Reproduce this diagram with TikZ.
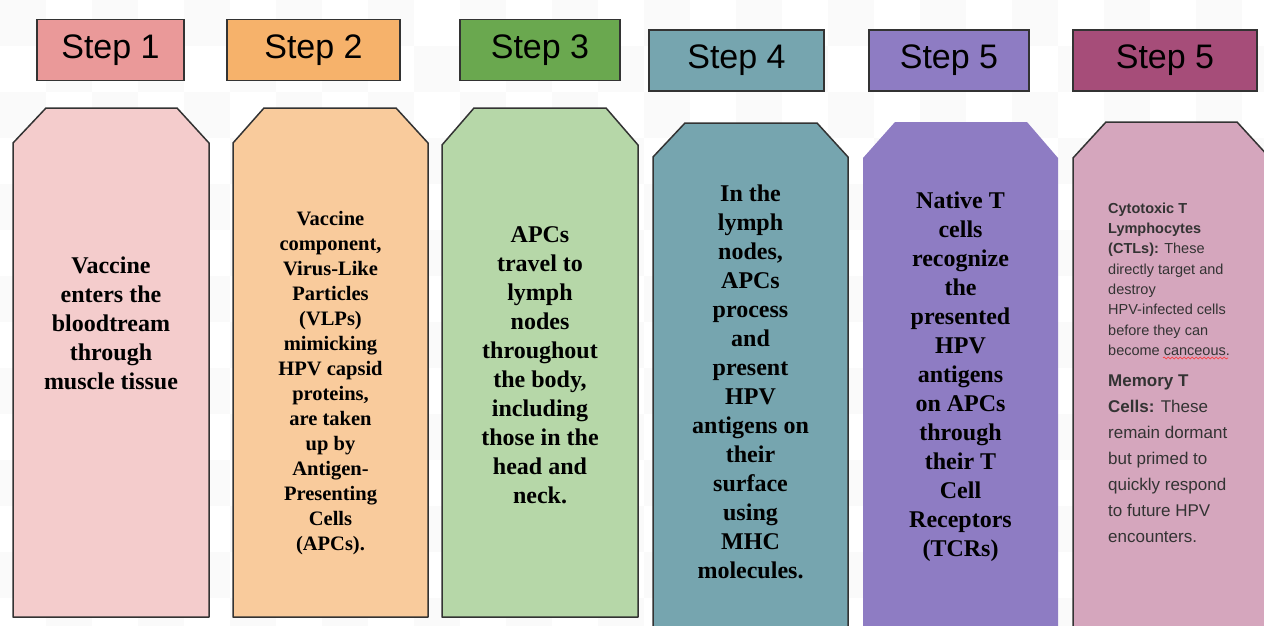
\documentclass[tikz,border=0pt]{standalone}
\usepackage{fontspec}
\setmainfont{Liberation Serif}
\setsansfont{Liberation Sans}
\usepackage{tikz}
\usetikzlibrary{decorations.pathmorphing}
\definecolor{hdpink}{HTML}{EA9999}
\definecolor{hdorange}{HTML}{F6B26B}
\definecolor{hdgreen}{HTML}{6AA84F}
\definecolor{hdteal}{HTML}{76A5AF}
\definecolor{hdpurple}{HTML}{8E7CC3}
\definecolor{hdberry}{HTML}{A64D79}
\definecolor{pnpink}{HTML}{F4CCCC}
\definecolor{pnorange}{HTML}{F9CB9C}
\definecolor{pngreen}{HTML}{B6D7A8}
\definecolor{pnteal}{HTML}{76A5AF}
\definecolor{pnpurple}{HTML}{8E7CC3}
\definecolor{pnberry}{HTML}{D5A6BD}
\tikzset{
    head box/.style={rectangle, draw=black!80, line width=1.2pt, minimum height=61pt, inner sep=0pt, font=\sffamily\fontsize{34}{34}\selectfont},
    head pink/.style={head box, fill=hdpink},
    head orange/.style={head box, fill=hdorange},
    head green/.style={head box, fill=hdgreen},
    head teal/.style={head box, fill=hdteal},
    head purple/.style={head box, fill=hdpurple},
    head berry/.style={head box, fill=hdberry},
    panel/.style={draw=black!80, line width=1.5pt, line join=round},
    panel text/.style={align=center, inner sep=0pt, font=\bfseries\fontsize{24}{29}\selectfont},
    small text/.style={align=left, inner sep=0pt, text=black!80, anchor=north west},
    tile/.style={fill=black!2},
}

\begin{document}
\begin{tikzpicture}[x=1pt, y=-1pt]
\useasboundingbox (0,0) rectangle (1264,626);
\clip (0,0) rectangle (1264,626);
\fill[white] (0,0) rectangle (1264,626);
% faint checker background
\foreach \i in {0,...,27}{
  \foreach \j in {0,...,13}{
    \pgfmathtruncatemacro{\chk}{mod(\i+\j,2)}
    \ifnum\chk=0 \fill[tile] (\i*46,\j*46) rectangle ++(46,46); \fi
  }
}

% headers
\node[head pink, minimum width=147pt] (h1) at (110.5,50) {Step 1};
\node[head orange, minimum width=173pt] (h2) at (313.5,50) {Step 2};
\node[head green, minimum width=160pt] (h3) at (540,50) {Step 3};
\node[head teal, minimum width=175pt] (h4) at (736.5,60.5) {Step 4};
\node[head purple, minimum width=160pt] (h5) at (949,60.5) {Step 5};
\node[head berry, minimum width=184pt] (h6) at (1165,60.5) {Step 5};

% panels
\draw[panel, fill=pnpink] (46,108) -- (177,108) -- (209,143) -- (209,617) -- (13,617) -- (13,143) -- cycle;
\draw[panel, fill=pnorange] (264,108) -- (396,108) -- (428,143) -- (428,617) -- (233,617) -- (233,143) -- cycle;
\draw[panel, fill=pngreen] (474,108) -- (606,108) -- (638,145) -- (638,617) -- (442,617) -- (442,145) -- cycle;
\draw[panel, fill=pnteal] (685,123) -- (817,123) -- (848,157) -- (848,640) -- (653,640) -- (653,157) -- cycle;
\fill[pnpurple] (895,122) -- (1027,122) -- (1058,158) -- (1058,640) -- (863,640) -- (863,158) -- cycle;
\draw[panel, fill=pnberry] (1106,122) -- (1237,122) -- (1270,158) -- (1270,640) -- (1073,640) -- (1073,158) -- cycle;

% panel texts
\node[panel text] (t1) at (111,323.5) {Vaccine\\enters the\\bloodtream\\through\\muscle tissue};
\node[panel text, font=\bfseries\fontsize{20.5}{25}\selectfont] (t2) at (330.5,383.5) {Vaccine\\component,\\Virus-Like\\Particles\\(VLPs)\\mimicking\\HPV capsid\\proteins,\\are taken\\up by\\Antigen-\\Presenting\\Cells\\(APCs).};
\node[panel text] (t3) at (540,365) {APCs\\travel to\\lymph\\nodes\\throughout\\the body,\\including\\those in the\\head and\\neck.};
\node[panel text] (t4) at (750.5,381.5) {In the\\lymph\\nodes,\\APCs\\process\\and\\present\\HPV\\antigens on\\their\\surface\\using\\MHC\\molecules.};
\node[panel text] (t5) at (960.5,377) {Native T\\cells\\recognize\\the\\presented\\HPV\\antigens\\on APCs\\through\\their T\\Cell\\Receptors\\(TCRs)};
\node[small text, font=\sffamily\fontsize{14.5}{20.3}\selectfont] (t6a) at (1108,202.5) {\textbf{Cytotoxic T}\\\textbf{Lymphocytes}\\\textbf{(CTLs):} These\\directly target and\\destroy\\HPV-infected cells\\before they can\\become canceous.};
\node[small text, font=\sffamily\fontsize{17}{26}\selectfont] (t6b) at (1108,375) {\textbf{Memory T}\\\textbf{Cells:} These\\remain dormant\\but primed to\\quickly respond\\to future HPV\\encounters.};
\draw[red!80, line width=0.6pt, decorate, decoration={snake, segment length=4pt, amplitude=1pt}] (1163,358) -- (1228,358);
\end{tikzpicture}
\end{document}
